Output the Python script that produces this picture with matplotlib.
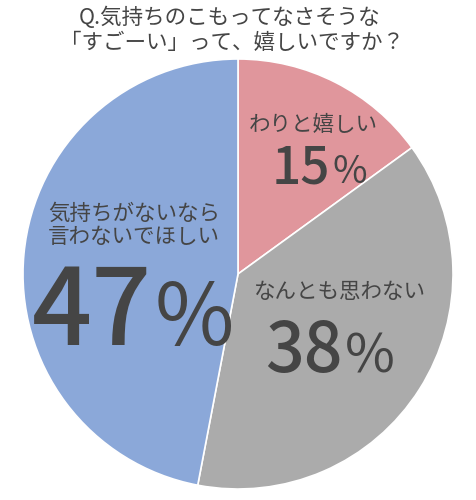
import matplotlib
matplotlib.use("Agg")
import matplotlib.pyplot as plt

plt.rcParams['font.family'] = ['Noto Sans CJK JP', 'DejaVu Sans']

# data
categories = ["わりと嬉しい", "なんとも思わない", "気持ちがないなら\n言わないでほしい"]
values = [15, 38, 47]
colors = ["#E0969C", "#ABABAB", "#8BA8D9"]
title_lines = ["Q.気持ちのこもってなさそうな", "「すごーい」って、嬉しいですか？"]

TXT = "#454545"

fig = plt.figure(figsize=(4.76, 5.0), dpi=100)
fig.patch.set_facecolor("white")

ax = fig.add_axes([0.0483, 0.022, 0.9034, 0.86])
ax.pie(values, colors=colors, startangle=90, counterclock=False,
       wedgeprops=dict(edgecolor="white", linewidth=1.2))
ax.set_xlim(-1, 1)
ax.set_ylim(-1, 1)
ax.set_aspect("equal")
ax.axis("off")

# title
fig.text(0.483, 1 - 18 / 500, title_lines[0], ha="center", va="center",
         fontsize=15.5, color=TXT)
fig.text(0.487, 1 - 43 / 500, title_lines[1], ha="center", va="center",
         fontsize=15.5, color=TXT)

# label layout
layout = [
    dict(cat=(0.349, 0.693), cat_ha="center", num=(0.428, 0.423), nsz=37, psz=27),
    dict(cat=(0.474, -0.084), cat_ha="center", num=(0.488, -0.456), nsz=49, psz=39),
    dict(cat=(-0.884, 0.225), cat_ha="left", num=(-0.40, -0.33), nsz=76, psz=62),
]

for cat, val, lay in zip(categories, values, layout):
    ax.text(lay["cat"][0], lay["cat"][1], cat, ha=lay["cat_ha"], va="center",
            fontsize=15.5, color=TXT, linespacing=1.05, multialignment="left")
    nx, ny = lay["num"]
    ax.text(nx, ny, f"{val}", ha="right", va="baseline",
            fontsize=lay["nsz"], color=TXT, fontweight="medium")
    ax.text(nx + 0.01, ny, "%", ha="left", va="baseline",
            fontsize=lay["psz"], color=TXT)

fig.savefig("out.png", dpi=100, facecolor="white")
